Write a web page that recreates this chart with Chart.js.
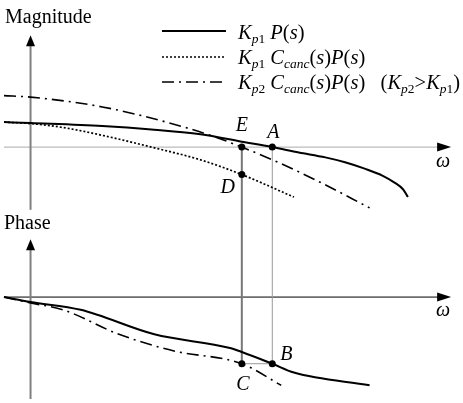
<!DOCTYPE html>
<html><head><meta charset="utf-8">
<script src="https://cdn.jsdelivr.net/npm/chart.js@4"></script>
<style>html,body{margin:0;padding:0;background:#fff}#wrap{width:463px;height:403px;position:relative}</style>
</head><body><div id="wrap"><canvas id="c"></canvas></div>
<script>
// ---- data (arbitrary schematic units; omega = frequency) ----
const omegaMagSolid = [-27, 0, 73, 123, 173, 215, 246, 273, 300, 320, 340, 358, 370, 379, 384];
const magSolid      = [25.5, 24.5, 21.5, 18, 13, 5.5, 0, -5.5, -10.5, -15.5, -22, -29, -36, -43, -51];
const omegaMagDotted = [-27, 0, 33, 73, 123, 173, 215, 268];
const magDotted      = [25.5, 24, 20, 12, 0, -13, -28, -51];
const omegaMagDashDot = [-27, 0, 73, 140, 183, 215, 253, 293, 345];
const magDashDot      = [52.5, 51, 41, 25, 12, 0, -16, -35, -62];
const omegaPhSolid = [-27, 0, 51, 126, 203, 215, 246, 268, 345];
const phSolid      = [0, -5, -13, -38, -52, -56, -68, -77, -90];
const omegaPhDashDot = [-27, 0, 33, 90, 146, 215, 255];
const phDashDot      = [0, -6, -13, -38, -55, -68, -90];
const omegaE = 215, omegaA = 246;
const magE = 0, magA = 0, magD = -28;
const phB = -68, phC = -68;
const pointNames = ['E', 'A', 'D', 'B', 'C'];
const seriesLabels = ['K_p1 P(s)', 'K_p1 C_canc(s)P(s)', 'K_p2 C_canc(s)P(s) (K_p2>K_p1)'];
const legendParts = [
  [['K','i'],['p','si'],['1','sr'],[' ','r'],['P','i'],['(','r'],['s','i'],[')','r']],
  [['K','i'],['p','si'],['1','sr'],[' ','r'],['C','i'],['canc','si'],['(','r'],['s','i'],[')','r'],['P','i'],['(','r'],['s','i'],[')','r']],
  [['K','i'],['p','si'],['2','sr'],[' ','r'],['C','i'],['canc','si'],['(','r'],['s','i'],[')','r'],['P','i'],['(','r'],['s','i'],[')','r'],['\u2002 ','r'],['(','r'],['K','i'],['p','si'],['2','sr'],['>','r'],['K','i'],['p','si'],['1','sr'],[')','r']]
];
const magAxisRange = [-64, 114];
const phAxisRange = [-104, 59];
const omegaAxisRange = [-27, 428];

const pts = (xs, ys) => xs.map((v, i) => ({x: v, y: ys[i]}));
const SERIF = '"Liberation Serif","DejaVu Serif",serif';
const DASHDOT = [12, 5, 2, 5];
const DOTTED = [2, 2];

function drawRich(ctx, x, y, parts) {
  ctx.textBaseline = 'alphabetic';
  ctx.textAlign = 'left';
  for (const [t, k] of parts) {
    const sub = k[0] === 's';
    const ital = k.endsWith('i');
    ctx.font = (ital ? 'italic ' : '') + (sub ? '13.5px ' : '20.5px ') + SERIF;
    ctx.fillText(t, x, sub ? y + 4 : y);
    x += ctx.measureText(t).width;
  }
}
function arrow(ctx, x, y, dir) {
  ctx.beginPath();
  if (dir === 'up') { ctx.moveTo(x, y); ctx.lineTo(x - 4.5, y + 11); ctx.lineTo(x + 4.5, y + 11); }
  else { ctx.moveTo(x, y); ctx.lineTo(x - 14, y - 4.5); ctx.lineTo(x - 14, y + 4.5); }
  ctx.closePath(); ctx.fillStyle = '#000'; ctx.fill();
}
function line(ctx, x1, y1, x2, y2, color, w) {
  ctx.beginPath(); ctx.moveTo(x1, y1); ctx.lineTo(x2, y2);
  ctx.strokeStyle = color; ctx.lineWidth = w; ctx.setLineDash([]); ctx.stroke();
}

const diagram = {
  id: 'diagram',
  beforeDatasetsDraw(chart) {
    const {ctx, scales: {x, yMag, yPh}} = chart;
    ctx.save();
    const x0 = x.getPixelForValue(0);
    const xl = x.getPixelForValue(omegaAxisRange[0]), xr = x.getPixelForValue(omegaAxisRange[1]);
    // magnitude axes
    line(ctx, xl, yMag.getPixelForValue(0), xr - 8, yMag.getPixelForValue(0), '#aaa', 1);
    arrow(ctx, xr, yMag.getPixelForValue(0), 'right');
    line(ctx, x0, yMag.getPixelForValue(magAxisRange[0]), x0, yMag.getPixelForValue(magAxisRange[1]) + 8, '#808080', 2);
    arrow(ctx, x0, yMag.getPixelForValue(magAxisRange[1]), 'up');
    // phase axes
    line(ctx, xl, yPh.getPixelForValue(0), xr - 8, yPh.getPixelForValue(0), '#000', 1);
    arrow(ctx, xr, yPh.getPixelForValue(0), 'right');
    line(ctx, x0, yPh.getPixelForValue(phAxisRange[0]), x0, yPh.getPixelForValue(phAxisRange[1]) + 8, '#808080', 2);
    arrow(ctx, x0, yPh.getPixelForValue(phAxisRange[1]), 'up');
    // guide lines
    const xE = x.getPixelForValue(omegaE), xA = x.getPixelForValue(omegaA);
    line(ctx, xE, yMag.getPixelForValue(magE), xE, yPh.getPixelForValue(phC), '#777', 2);
    line(ctx, xA, yMag.getPixelForValue(magA), xA, yPh.getPixelForValue(phB), '#999', 1);
    line(ctx, xE, yPh.getPixelForValue(phC), xA, yPh.getPixelForValue(phB), '#999', 1);
    ctx.restore();
  },
  afterDatasetsDraw(chart) {
    const {ctx, scales: {x, yMag, yPh}} = chart;
    ctx.save();
    ctx.fillStyle = '#000';
    // axis titles
    ctx.font = '20px ' + SERIF; ctx.textAlign = 'left'; ctx.textBaseline = 'alphabetic';
    ctx.fillText('Magnitude', x.getPixelForValue(omegaAxisRange[0]) + 1, yMag.getPixelForValue(magAxisRange[1]) - 12);
    ctx.fillText('Phase', x.getPixelForValue(omegaAxisRange[0]), yPh.getPixelForValue(phAxisRange[1]) - 10);
    ctx.font = 'italic 20px ' + SERIF; ctx.textAlign = 'center';
    const xr = x.getPixelForValue(omegaAxisRange[1]);
    ctx.fillText('\u03c9', xr - 8, yMag.getPixelForValue(0) + 20);
    ctx.fillText('\u03c9', xr - 8, yPh.getPixelForValue(0) + 19);
    // point labels
    const xE = x.getPixelForValue(omegaE), xA = x.getPixelForValue(omegaA);
    ctx.fillText(pointNames[0], xE, yMag.getPixelForValue(magE) - 16);
    ctx.fillText(pointNames[1], xA + 1, yMag.getPixelForValue(magA) - 9);
    ctx.fillText(pointNames[2], xE - 14, yMag.getPixelForValue(magD) + 18);
    ctx.fillText(pointNames[3], xA + 14, yPh.getPixelForValue(phB) - 4);
    ctx.fillText(pointNames[4], xE + 1, yPh.getPixelForValue(phC) + 26);
    // legend
    const rows = [31, 57, 82], baselines = [39, 64, 89];
    for (let i = 0; i < 3; i++) {
      const ds = chart.data.datasets[i];
      ctx.beginPath(); ctx.moveTo(162, rows[i]); ctx.lineTo(226, rows[i]);
      ctx.strokeStyle = ds.borderColor; ctx.lineWidth = ds.borderWidth;
      ctx.setLineDash(ds.borderDash || []); ctx.stroke();
      ctx.setLineDash([]);
      drawRich(ctx, 238, baselines[i], legendParts[i]);
    }
    ctx.restore();
  }
};

const curve = (label, data, axis, dash, w) => ({
  label, data, yAxisID: axis, showLine: true, borderColor: '#000', backgroundColor: '#000',
  borderWidth: w, borderDash: dash, pointRadius: 0, cubicInterpolationMode: 'monotone', clip: false
});

new Chart(document.getElementById('c'), {
  type: 'scatter',
  data: {
    datasets: [
      curve(seriesLabels[0], pts(omegaMagSolid, magSolid), 'yMag', [], 2),
      curve(seriesLabels[1], pts(omegaMagDotted, magDotted), 'yMag', DOTTED, 1.7),
      curve(seriesLabels[2], pts(omegaMagDashDot, magDashDot), 'yMag', DASHDOT, 1.6),
      curve(seriesLabels[0] + ' phase', pts(omegaPhSolid, phSolid), 'yPh', [], 2),
      curve(seriesLabels[2] + ' phase', pts(omegaPhDashDot, phDashDot), 'yPh', DASHDOT, 1.6),
      {label: 'mag points', data: pts([omegaE, omegaA, omegaE], [magE, magA, magD]), yAxisID: 'yMag',
       showLine: false, pointRadius: 3.5, pointBackgroundColor: '#000', pointBorderWidth: 0},
      {label: 'phase points', data: pts([omegaA, omegaE], [phB, phC]), yAxisID: 'yPh',
       showLine: false, pointRadius: 3.5, pointBackgroundColor: '#000', pointBorderWidth: 0}
    ]
  },
  options: {
    responsive: true, maintainAspectRatio: false, animation: false,
    layout: {padding: 0},
    plugins: {legend: {display: false}, tooltip: {enabled: false}},
    scales: {
      x: {type: 'linear', min: -27, max: 436, display: false},
      yMag: {type: 'linear', min: -257, max: 146, display: false},
      yPh: {type: 'linear', min: -104, max: 299, display: false}
    }
  },
  plugins: [diagram]
});
</script></body></html>
